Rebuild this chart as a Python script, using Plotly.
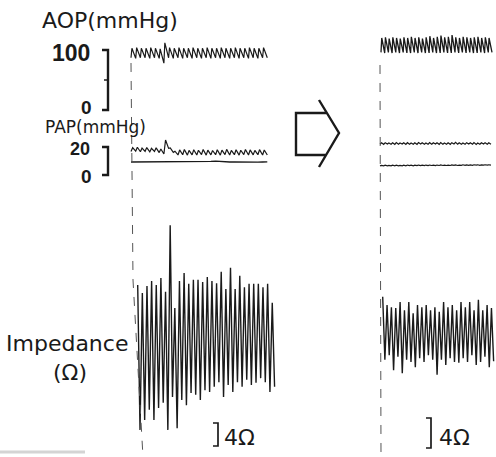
import plotly.graph_objects as go

# ---------------- data ----------------
# Left record (before)  -- pressures in mmHg, impedance change in ohm
aop_left_sys = [103, 104, 103, 103, 104, 103, 102, 112, 104, 103, 104, 103, 103, 104, 103,
                103, 104, 103, 103, 104, 103, 103, 104, 103, 103, 104, 103, 103, 104]
aop_left_dia = [87, 86, 87, 87, 86, 87, 86, 78, 87, 86, 87, 86, 87, 86, 87,
                86, 87, 86, 87, 86, 87, 86, 87, 86, 87, 86, 87, 86, 87]
pap_left_sys = [19.5, 19.8, 19.2, 19.6, 19.0, 19.4, 18.6, 25.0, 19.3, 17.0, 17.9, 18.2, 17.6, 18.0, 17.7,
                18.2, 17.8, 17.5, 18.0, 17.8, 18.3, 17.6, 18.0, 17.7, 18.2, 17.9, 17.6, 18.1, 17.9]
pap_left_dia = [16.8, 17.0, 16.6, 16.9, 16.5, 16.8, 16.0, 15.0, 19.0, 16.2, 14.3, 14.5, 14.2, 14.4, 14.3,
                14.6, 14.2, 14.4, 14.5, 14.2, 14.6, 14.3, 14.5, 14.2, 14.6, 14.3, 14.4, 14.5, 14.3]
lower_left = [9.3, 9.3, 9.2, 9.3, 9.3, 9.2, 9.3, 9.3, 9.2, 9.3, 9.3, 9.3, 9.2, 9.3, 9.3,
              9.4, 9.5, 9.7, 9.9, 9.6, 9.4, 9.3, 9.3, 9.2, 9.3, 9.3, 9.3, 9.2, 9.3, 9.4]
z_left_peak = [8.7, 7.3, 8.5, 9.4, 8.7, 9.9, 7.5, 19.1, 4.7, 9.4, 10.8, 8.9, 9.6, 9.6, 9.2,
               10.1, 9.4, 9.0, 11.0, 8.0, 11.7, 8.0, 10.3, 8.3, 8.9, 8.9, 8.9, 8.3, 8.9, 5.6]
z_left_trough = [-16.5, -14.8, -13.0, -14.8, -12.7, -11.8, -16.5, -10.8, -16.2, -11.3, -12.2, -10.1,
                 -10.4, -11.3, -9.6, -9.9, -9.0, -8.2, -10.8, -8.7, -9.9, -8.2, -9.0, -7.8, -8.7,
                 -8.3, -7.5, -8.2, -9.9, -9.0]

# Right record (after)
aop_right_sys = [120, 121, 119, 121, 120, 119, 121, 120, 122, 120, 121, 119, 121, 123, 120,
                 122, 124, 121, 122, 125, 121, 120, 122, 121, 120, 121, 122, 120, 121, 120]
aop_right_dia = [96, 95, 96, 95, 96, 95, 96, 95, 95, 96, 95, 96, 95, 95, 96,
                 95, 95, 96, 95, 95, 96, 95, 96, 95, 96, 95, 95, 96, 95, 96]
pap_right_sys = [23.0, 23.1, 22.9, 23.0, 23.2, 22.9, 23.0, 23.1, 22.9, 23.0, 23.2, 23.0, 22.9, 23.1, 23.0,
                 23.0, 23.2, 22.9, 23.0, 23.1, 23.3, 23.0, 22.9, 23.1, 23.0, 23.2, 22.9, 23.0, 23.1, 23.0]
pap_right_dia = [22.0, 21.9, 22.1, 22.0, 21.9, 22.0, 22.1, 21.9, 22.0, 22.0, 21.9, 22.1, 22.0, 21.9, 22.0,
                 22.1, 21.9, 22.0, 22.0, 21.9, 22.1, 22.0, 22.0, 21.9, 22.1, 22.0, 21.9, 22.0, 22.1, 22.0]
lower_right_sys = [6.9, 7.0, 6.9, 7.0, 7.0, 6.9, 7.0, 7.1, 7.0, 7.0, 7.1, 7.0, 7.1, 7.1, 7.0,
                   7.1, 7.2, 7.1, 7.1, 7.2, 7.2, 7.1, 7.3, 7.2, 7.2, 7.3, 7.3, 7.2, 7.3, 7.3]
lower_right_dia = [6.5, 6.5, 6.6, 6.5, 6.6, 6.6, 6.6, 6.6, 6.7, 6.6, 6.7, 6.7, 6.7, 6.7, 6.8,
                   6.7, 6.8, 6.8, 6.8, 6.8, 6.9, 6.8, 6.9, 6.9, 6.9, 6.9, 7.0, 6.9, 7.0, 7.0]
z_right_peak = [5.1, 4.0, 3.7, 3.6, 4.4, 3.3, 4.4, 2.9, 4.0, 3.7, 4.0, 3.3, 3.7, 3.1, 4.4,
                3.7, 4.0, 3.3, 4.4, 3.7, 4.4, 3.3, 4.7, 3.3, 4.0, 3.6]
z_right_trough = [-3.3, -2.7, -4.7, -2.9, -5.1, -3.3, -3.6, -4.3, -3.1, -3.6, -2.7, -3.3, -5.3,
                  -3.3, -4.0, -3.1, -3.6, -3.7, -3.1, -3.6, -2.7, -4.0, -3.6, -2.9, -4.3, -3.5]

# timing (seconds): start of each record and cycle length
left_beat, left_start = 0.188, 0.0
right_beat, right_start = 0.148, 0.04
left_z_cycle, left_z_start = 0.1856, 0.268
right_z_cycle, right_z_start = 0.174, 0.108

# scale labels
aop_ticks = [0, 100]
pap_ticks = [0, 20]
z_bar = 4

# ---------------- page geometry ----------------
W, H = 496, 457
SPEED = 25.0            # px per second
LEFT_T0_PX, RIGHT_T0_PX = 131, 380
AOP_ZERO_PX, AOP_PPU = 110, 0.6
PAP_ZERO_PX, PAP_PPU = 175, 1.4
ZL_ZERO_PX, ZL_PPU = 335, 5.75
ZR_ZERO_PX, ZR_PPU = 335, 7.5
INK = "#1a1a1a"


def yrange(zero_px, ppu):
    return [(zero_px - H) / ppu, zero_px / ppu]


def xrange(t0_px):
    return [-t0_px / SPEED, (W - t0_px) / SPEED]


def px(x):
    return x / W


def py(y):
    return 1 - y / H


def pulse(t0, period, sys, dia, up):
    t, v = [], []
    for i, (s, d) in enumerate(zip(sys, dia)):
        tb = t0 + i * period
        t += [tb, tb + up * period]
        v += [d, s]
    t.append(t0 + len(sys) * period)
    v.append(dia[-1])
    return t, v


def zigzag(t0, period, peaks, troughs):
    t, v = [], []
    for i, p in enumerate(peaks):
        t.append(t0 + i * period)
        v.append(p)
        if i < len(troughs):
            t.append(t0 + (i + 0.5) * period)
            v.append(troughs[i])
    return t, v


fig = go.Figure()


def add(t, v, xa, ya, w=1.2):
    fig.add_trace(go.Scatter(x=t, y=v, xaxis=xa, yaxis=ya, mode="lines",
                             line=dict(color=INK, width=w), hoverinfo="skip",
                             showlegend=False))


# left record
add(*pulse(left_start, left_beat, aop_left_sys, aop_left_dia, 0.2), "x", "y")
add(*pulse(left_start, left_beat, pap_left_sys, pap_left_dia, 0.35), "x", "y2")
add([left_start + i * left_beat for i in range(len(lower_left))], lower_left, "x", "y2", 1.4)
add(*zigzag(left_z_start, left_z_cycle, z_left_peak, z_left_trough), "x", "y3", 1.4)

# right record
add(*pulse(right_start, right_beat, aop_right_sys, aop_right_dia, 0.2), "x2", "y", 1.3)
add(*pulse(0.0, right_beat, pap_right_sys, pap_right_dia, 0.4), "x2", "y2")
add(*pulse(0.0, right_beat, lower_right_sys, lower_right_dia, 0.4), "x2", "y2")
add(*zigzag(right_z_start, right_z_cycle, z_right_peak, z_right_trough), "x2", "y4", 1.4)

hidden = dict(visible=False, showgrid=False, zeroline=False, fixedrange=True)
fig.update_layout(
    width=W, height=H, margin=dict(l=0, r=0, t=0, b=0),
    paper_bgcolor="white", plot_bgcolor="white",
    xaxis=dict(range=xrange(LEFT_T0_PX), domain=[0, 1], anchor="y", **hidden),
    xaxis2=dict(range=xrange(RIGHT_T0_PX), domain=[0, 1], anchor="y", overlaying="x", **hidden),
    yaxis=dict(range=yrange(AOP_ZERO_PX, AOP_PPU), domain=[0, 1], anchor="x", **hidden),
    yaxis2=dict(range=yrange(PAP_ZERO_PX, PAP_PPU), domain=[0, 1], anchor="x", overlaying="y", **hidden),
    yaxis3=dict(range=yrange(ZL_ZERO_PX, ZL_PPU), domain=[0, 1], anchor="x", overlaying="y", **hidden),
    yaxis4=dict(range=yrange(ZR_ZERO_PX, ZR_PPU), domain=[0, 1], anchor="x", overlaying="y", **hidden),
)

shapes = []
# calibration brackets for pressures
bx0, bx1 = px(102), px(108)
shapes.append(dict(type="path", xref="paper", yref="y",
                   path=f"M{bx0},{aop_ticks[1]} L{bx1},{aop_ticks[1]} L{bx1},{aop_ticks[0]} L{bx0},{aop_ticks[0]}",
                   line=dict(color=INK, width=2.4)))
shapes.append(dict(type="line", xref="paper", yref="y", x0=px(104), x1=bx1,
                   y0=sum(aop_ticks) / 2, y1=sum(aop_ticks) / 2, line=dict(color=INK, width=1.5)))
shapes.append(dict(type="path", xref="paper", yref="y2",
                   path=f"M{bx0},{pap_ticks[1]} L{bx1},{pap_ticks[1]} L{bx1},{pap_ticks[0]} L{bx0},{pap_ticks[0]}",
                   line=dict(color=INK, width=2.4)))
# 4 ohm bars
zl_bot = (ZL_ZERO_PX - 446) / ZL_PPU
shapes.append(dict(type="path", xref="paper", yref="y3",
                   path=f"M{px(213)},{zl_bot + z_bar} L{px(218)},{zl_bot + z_bar} L{px(218)},{zl_bot} L{px(213)},{zl_bot}",
                   line=dict(color=INK, width=1.7)))
zr_bot = (ZR_ZERO_PX - 448) / ZR_PPU
shapes.append(dict(type="path", xref="paper", yref="y4",
                   path=f"M{px(426)},{zr_bot + z_bar} L{px(431)},{zr_bot + z_bar} L{px(431)},{zr_bot} L{px(426)},{zr_bot}",
                   line=dict(color=INK, width=1.7)))
# event marker lines
shapes.append(dict(type="path", xref="paper", yref="paper",
                   path=f"M{px(131)},{py(63)} L{px(133)},{py(280)} L{px(143)},{py(457)}",
                   line=dict(color="#555", width=1, dash="dash")))
shapes.append(dict(type="line", xref="paper", yref="paper", x0=px(380), x1=px(381),
                   y0=py(65), y1=py(457), line=dict(color="#555", width=1, dash="dash")))
# arrow between records
shapes.append(dict(type="path", xref="paper", yref="paper",
                   path=(f"M{px(327)},{py(113)} L{px(296)},{py(113)} L{px(296)},{py(155)} L{px(326)},{py(155)} "
                         f"M{px(319)},{py(100)} L{px(339)},{py(133)} L{px(319)},{py(167)}"),
                   line=dict(color=INK, width=2.4)))
# scan edge at the bottom
shapes.append(dict(type="line", xref="paper", yref="paper", x0=0, x1=px(85), y0=py(452), y1=py(452),
                   line=dict(color="#d4d4d4", width=3)))
fig.update_layout(shapes=shapes)

TXT = "DejaVu Sans"
NUM = "Liberation Sans"


def label(text, x, y, size, xanchor="left", family=TXT):
    fig.add_annotation(text=text, x=px(x), y=py(y), xref="paper", yref="paper",
                       xanchor=xanchor, yanchor="middle", showarrow=False, borderpad=0,
                       font=dict(family=family, size=size, color=INK))


label("AOP(mmHg)", 41, 20, 22)
label(f"<b>{aop_ticks[1]}</b>", 91, 53, 23, "right", NUM)
label(f"<b>{aop_ticks[0]}</b>", 93, 107, 19, "right", NUM)
label("PAP(mmHg)", 44, 127, 17)
label(f"<b>{pap_ticks[1]}</b>", 91, 149, 18, "right", NUM)
label(f"<b>{pap_ticks[0]}</b>", 93, 177, 19, "right", NUM)
label("Impedance", 5, 343, 22)
label("(Ω)", 70, 372, 22, "center")
label(f"{z_bar}Ω", 223, 437, 22)
label(f"{z_bar}Ω", 438, 437, 22)

fig.write_html("out.html")
